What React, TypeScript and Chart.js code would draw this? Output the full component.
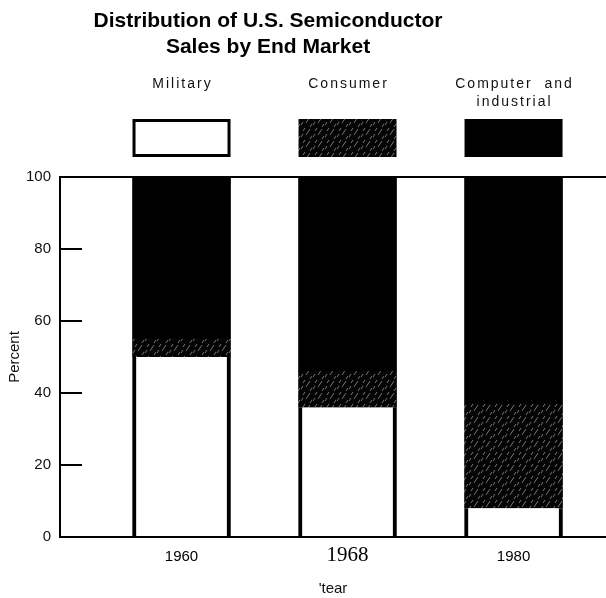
import React, { useEffect, useRef } from 'react';
import { Chart, registerables } from 'chart.js';

Chart.register(...registerables);

// ---- data ----
const years = ['1960', '1968', '1980'];
const military = [50, 36, 8];
const consumer = [5, 10, 29];
const computer = [45, 54, 63];
const seriesNames = ['Military', 'Consumer', 'Computer and industrial'];
const legendLines = [['Military'], ['Consumer'], ['Computer  and', 'industrial']];
const titleLines = ['Distribution of U.S. Semiconductor', 'Sales by End Market'];
const yTickValues = [0, 20, 40, 60, 80, 100];
const xAxisTitle = "'tear";
const yAxisTitle = 'Percent';

const SANS = '"Liberation Sans", Arial, Helvetica, sans-serif';
const SERIF = '"Liberation Serif", "Times New Roman", serif';

function makePattern(ctx: CanvasRenderingContext2D): CanvasPattern | string {
  const c = document.createElement('canvas');
  c.width = 12;
  c.height = 12;
  const g = c.getContext('2d');
  if (!g) return '#222';
  g.fillStyle = '#050505';
  g.fillRect(0, 0, 12, 12);
  g.strokeStyle = 'rgba(255,255,255,0.45)';
  g.lineWidth = 1;
  const marks = [[1, 5], [6, 3], [10, 7], [3, 11], [8, 12]];
  marks.forEach(([x, y]) => {
    g.beginPath();
    g.moveTo(x, y);
    g.lineTo(x + 2, y - 3);
    g.stroke();
  });
  return ctx.createPattern(c, 'repeat') || '#222';
}

const headerPlugin = {
  id: 'headerPlugin',
  afterDraw(chart: any) {
    const ctx: CanvasRenderingContext2D = chart.ctx;
    ctx.save();
    ctx.fillStyle = '#000';
    ctx.textAlign = 'center';
    ctx.textBaseline = 'middle';
    ctx.font = `bold 21px ${SANS}`;
    titleLines.forEach((t, i) => ctx.fillText(t, 268, 21 + i * 26));

    chart.data.datasets.forEach((ds: any, i: number) => {
      const meta = chart.getDatasetMeta(i);
      const el = meta.data[i];
      if (!el) return;
      const p = el.getProps(['x', 'width'], true);
      const left = p.x - p.width / 2;
      const top = 119;
      const h = 38;
      ctx.fillStyle = ds.legendBorder ? '#000' : ds.backgroundColor;
      ctx.fillRect(left, top, p.width, h);
      if (ds.legendBorder) {
        ctx.fillStyle = ds.backgroundColor;
        ctx.fillRect(left + 3, top + 3, p.width - 6, h - 6);
      }
      ctx.fillStyle = '#111';
      ctx.font = `14px ${SANS}`;
      (ctx as any).letterSpacing = '2px';
      legendLines[i].forEach((line, j) => {
        ctx.fillText(line, p.x + 1, 84 + j * 18);
      });
      (ctx as any).letterSpacing = '0px';
    });
    ctx.restore();
  },
};

export default function App() {
  const ref = useRef<HTMLCanvasElement | null>(null);

  useEffect(() => {
    const canvas = ref.current;
    if (!canvas) return;
    const ctx = canvas.getContext('2d');
    if (!ctx) return;
    const pattern = makePattern(ctx);

    const toPts = (arr: number[]) => arr.map((v, i) => ({ x: i, y: v }));

    const chart = new Chart(ctx, {
      type: 'bar',
      data: {
        datasets: [
          {
            label: seriesNames[0],
            data: toPts(military),
            backgroundColor: '#fff',
            borderColor: '#000',
            borderWidth: { left: 4, right: 4, top: 0, bottom: 0 },
            borderSkipped: false,
            legendBorder: true,
          } as any,
          {
            label: seriesNames[1],
            data: toPts(consumer),
            backgroundColor: pattern,
            borderWidth: 0,
          } as any,
          {
            label: seriesNames[2],
            data: toPts(computer),
            backgroundColor: '#000',
            borderWidth: 0,
          } as any,
        ],
      },
      options: {
        animation: false,
        responsive: false,
        layout: { padding: { top: 177, left: 0, right: 0, bottom: 0 } },
        datasets: { bar: { barThickness: 98 } },
        plugins: {
          legend: { display: false },
          title: { display: false },
          tooltip: { enabled: false },
        },
        scales: {
          x: {
            type: 'linear',
            stacked: true,
            min: -0.732,
            max: 2.557,
            offset: false,
            afterBuildTicks: (axis: any) => {
              axis.ticks = years.map((_, i) => ({ value: i }));
            },
            afterFit: (scale: any) => {
              scale.height = 61;
            },
            grid: { display: true, drawOnChartArea: false, drawTicks: false },
            border: { display: true, color: '#000', width: 2 },
            ticks: {
              padding: 11,
              maxRotation: 0,
              autoSkip: false,
              color: '#000',
              callback: (v: any) => years[v] ?? '',
              font: (c: any) =>
                c.index === 1
                  ? { family: SERIF, size: 21, lineHeight: 0.75 }
                  : { family: SANS, size: 15 },
            },
            title: {
              display: true,
              text: xAxisTitle,
              color: '#111',
              font: { family: SANS, size: 15 },
              padding: { top: 0, bottom: 0 },
            },
          },
          y: {
            stacked: true,
            min: 0,
            max: 100,
            afterBuildTicks: (axis: any) => {
              axis.ticks = yTickValues.map((v) => ({ value: v }));
            },
            afterFit: (scale: any) => {
              scale.width = 60;
            },
            grid: {
              drawOnChartArea: true,
              drawTicks: true,
              tickLength: -22,
              tickWidth: 2,
              tickColor: '#000',
              lineWidth: 2,
              color: (c: any) => (c.tick && c.tick.value === 100 ? '#000' : 'rgba(0,0,0,0)'),
            },
            border: { display: true, color: '#000', width: 2 },
            ticks: {
              padding: 31,
              color: '#111',
              font: { family: SANS, size: 15 },
            },
            title: {
              display: true,
              text: yAxisTitle,
              color: '#111',
              font: { family: SANS, size: 15 },
              padding: { top: 6, bottom: 0 },
            },
          },
        },
      },
      plugins: [headerPlugin],
    } as any);

    return () => chart.destroy();
  }, []);

  return (
    <div style={{ position: 'fixed', left: 0, top: 0, width: 606, height: 598, background: '#fff' }}>
      <canvas ref={ref} width={606} height={598} style={{ display: 'block' }} />
    </div>
  );
}
